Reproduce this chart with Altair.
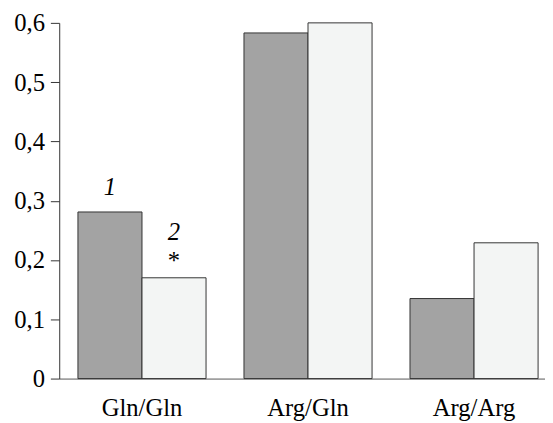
import altair as alt
import pandas as pd

categories = ["Gln/Gln", "Arg/Gln", "Arg/Arg"]
series = ["1", "2"]
values_1 = [0.281, 0.583, 0.135]
values_2 = [0.170, 0.600, 0.229]

rows = []
for c, a, b in zip(categories, values_1, values_2):
    rows.append({"cat": c, "series": "1", "value": a})
    rows.append({"cat": c, "series": "2", "value": b})
df = pd.DataFrame(rows)

ann_1 = pd.DataFrame([{"cat": "Gln/Gln", "series": "1", "value": values_1[0], "label": "1"}])
ann_2 = pd.DataFrame([{"cat": "Gln/Gln", "series": "2", "value": values_2[0], "label": "2"}])
ann_star = pd.DataFrame([{"cat": "Gln/Gln", "series": "2", "value": values_2[0], "label": "*"}])

FONT = "Liberation Serif"

xscale = alt.Scale(domain=categories, paddingInner=0.2285, paddingOuter=0.0772, align=0.73)
yscale = alt.Scale(domain=[0, 0.6], nice=False)


def xe():
    return alt.X("cat:N", sort=categories, title=None, scale=xscale,
                 axis=alt.Axis(ticks=False, labelAngle=0, labelPadding=17,
                               labelFont=FONT, labelFontSize=25, labelColor="black",
                               domainColor="#555"))


def ye():
    return alt.Y("value:Q", title=None, scale=yscale,
                 axis=alt.Axis(values=[0, 0.1, 0.2, 0.3, 0.4, 0.5, 0.6], grid=False,
                               tickSize=9, labelPadding=6, labelFont=FONT, labelFontSize=25,
                               labelColor="black", domainColor="#333", tickColor="#333",
                               labelExpr="datum.value == 0 ? '0' : replace(format(datum.value, '.1f'), '.', ',')"))


xoff = alt.XOffset("series:N", sort=series, scale=alt.Scale(domain=series))

bars = alt.Chart(df).mark_bar(stroke="#333", strokeWidth=1).encode(
    x=xe(), xOffset=xoff, y=ye(),
    color=alt.Color("series:N", sort=series,
                    scale=alt.Scale(domain=series, range=["#a3a3a3", "#f3f5f4"]),
                    legend=None),
)


def txt(data, dy, italic=True):
    kw = dict(font=FONT, fontSize=25, color="black", baseline="middle", dy=dy)
    if italic:
        kw["fontStyle"] = "italic"
    return alt.Chart(data).mark_text(**kw).encode(
        x=xe(), xOffset=xoff, y=ye(), text="label:N")


chart = alt.layer(
    bars, txt(ann_1, -25), txt(ann_2, -46), txt(ann_star, -17, italic=False)
).properties(
    width=493, height=361,
    autosize=alt.AutoSizeParams(type="none"),
    padding={"left": 52, "top": 12, "right": 0, "bottom": 42},
    background="white",
).configure_view(stroke="transparent", strokeWidth=0, strokeOpacity=0)

chart.save("out.html", embed_options={"renderer": "svg", "actions": False})
